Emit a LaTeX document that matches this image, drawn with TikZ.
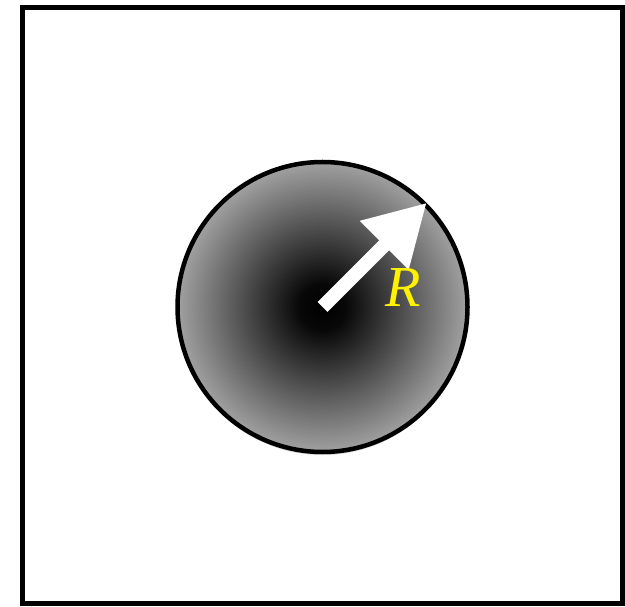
\documentclass[tikz,border=0pt]{standalone}
\usepackage{xcolor}
\usepackage{fontspec}
\setmainfont{Liberation Serif}
\usepackage{tikz}
\usetikzlibrary{positioning, shapes, arrows.meta, calc, shadows}
\pgfdeclareradialshading{ballshade}{\pgfpoint{0bp}{0bp}}{color(0bp)=(black); color(4bp)=(black!97); color(25bp)=(black!37); color(50bp)=(black!37)}
\tikzset{
    boxframe/.style={draw=black, line width=0.1cm},
    shaded disc/.style={circle, draw=black, line width=0.09cm, minimum size=5.8cm, inner sep=0pt, shading=ballshade,
        drop shadow={shadow xshift=0pt, shadow yshift=-0.06cm, opacity=0.35}},
    radius arrow/.style={white, line width=0.28cm, -{Triangle[length=1.2cm, width=1.3cm]}},
    rlabel/.style={text=yellow, font=\fontsize{33}{40}\selectfont\itshape, inner sep=0pt},
}

\begin{document}
\begin{tikzpicture}
    \useasboundingbox (0,0) rectangle (12.5,12.12);
    \draw[boxframe] (0.45,0.05) rectangle (12.45,11.97);
    \node[shaded disc] (disc) at (6.45,5.98) {};
    \draw[radius arrow] (disc.center) -- (disc.45);
    \node[rlabel] (R) at (8.06,6.36) {R};
\end{tikzpicture}
\end{document}
